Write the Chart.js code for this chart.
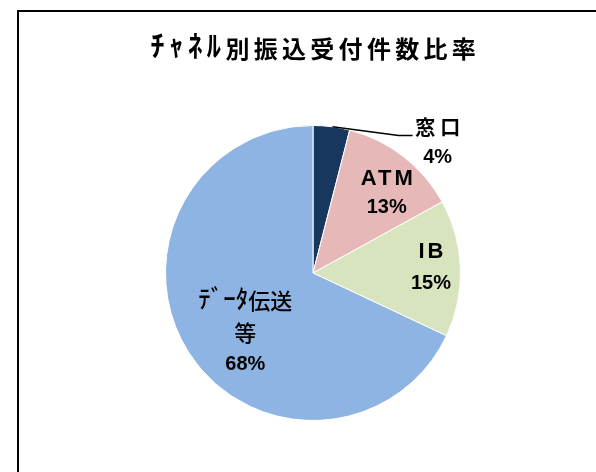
<!DOCTYPE html>
<html>
<head>
<meta charset="utf-8">
<script src="https://cdn.jsdelivr.net/npm/chart.js@4/dist/chart.umd.min.js"></script>
<style>
  html, body { margin: 0; padding: 0; background: #fff; }
  #wrap { position: relative; width: 596px; height: 472px; }
  #frame { position: absolute; left: 17px; top: 10px; right: 0; bottom: 0;
           border-left: 2px solid #000; border-top: 2px solid #000; }
  canvas { position: absolute; left: 0; top: 0; }
</style>
</head>
<body>
<div id="wrap">
  <div id="frame"></div>
  <canvas id="c" width="596" height="472"></canvas>
</div>
<script>
// ---- data ----
const chartTitle = 'ﾁｬﾈﾙ別振込受付件数比率';
const categories = ['窓口', 'ATM', 'IB', ['ﾃﾞｰﾀ伝送', '等']];
const shares = [4, 13, 15, 68];
const sliceColors = ['#17375E', '#E6B9B8', '#D7E4BD', '#8EB4E3'];

// label placement (fractions of radius from the pie centre) – styling only
const JP = '"Noto Sans CJK JP"';
const labelPos = [
  { fx: 0.845, fy: -0.885, lh: 30, w: 'bold', size: 20, kana: 24, ls: 5 },
  { fx: 0.500, fy: -0.540, lh: 29, w: 'bold', size: 22, kana: 24, ls: 3 },
  { fx: 0.800, fy: -0.035, lh: 32, w: 'bold', size: 22, kana: 24, ls: 3 },
  { fx: -0.459, fy: 0.405, lh: 32, w: '500', size: 22, kana: 25, ls: 0 }
];

const isHalfKana = ch => { const c = ch.charCodeAt(0); return c >= 0xFF61 && c <= 0xFF9F; };

// draw text centred at (cx, y); half-width kana drawn with a larger size
function drawMixed(ctx, text, cx, y, weight, size, kanaSize, ls) {
  const runs = [];
  for (const ch of text) {
    const k = isHalfKana(ch);
    if (runs.length && runs[runs.length - 1].k === k) runs[runs.length - 1].t += ch;
    else runs.push({ k, t: ch });
  }
  ctx.letterSpacing = ls + 'px';
  let total = 0;
  runs.forEach(r => {
    ctx.font = `${weight} ${r.k ? kanaSize : size}px "Liberation Sans", ${JP}`;
    if (!r.k && /[^\x00-\x7F]/.test(r.t)) ctx.font = `${weight} ${size}px ${JP}`;
    r.font = ctx.font;
    r.w = ctx.measureText(r.t).width;
    total += r.w;
  });
  total -= ls;
  let x = cx - total / 2;
  ctx.textAlign = 'left';
  ctx.textBaseline = 'middle';
  runs.forEach(r => {
    ctx.font = r.font;
    ctx.fillText(r.t, x, y);
    x += r.w;
  });
}

const titlePlugin = {
  id: 'titleText',
  afterDraw(chart) {
    const ctx = chart.ctx;
    ctx.save();
    ctx.fillStyle = '#000';
    drawMixed(ctx, chartTitle, 313, 49, 'bold', 24, 29, 4.3);
    ctx.restore();
  }
};

const labelPlugin = {
  id: 'sliceLabels',
  afterDatasetsDraw(chart) {
    const ctx = chart.ctx;
    const meta = chart.getDatasetMeta(0);
    meta.data.forEach((arc, i) => {
      const p = labelPos[i];
      const R = arc.outerRadius;
      const cx = arc.x + p.fx * R;
      const cy = arc.y + p.fy * R;
      const cat = chart.data.labels[i];
      const catLines = Array.isArray(cat) ? cat : [cat];
      const n = catLines.length + 1;
      ctx.save();
      ctx.fillStyle = '#000';
      catLines.forEach((t, k) => {
        const y = cy + (k - (n - 1) / 2) * p.lh;
        drawMixed(ctx, t, cx, y, p.w, p.size, p.kana, p.ls);
      });
      const yv = cy + ((n - 1) - (n - 1) / 2) * p.lh;
      drawMixed(ctx, chart.data.datasets[0].data[i] + '%', cx, yv, 'bold', 20, 20, 0);
      ctx.restore();

      if (i === 0) {
        // leader line from slice edge to label
        const mid = (arc.startAngle + arc.endAngle) / 2;
        const sx = arc.x + Math.cos(mid) * R;
        const sy = arc.y + Math.sin(mid) * R;
        const ex = cx - 25;
        const ey = cy - p.lh / 2 + 8;
        ctx.save();
        ctx.strokeStyle = '#000';
        ctx.lineWidth = 1.5;
        ctx.beginPath();
        ctx.moveTo(sx + 1, sy);
        ctx.lineTo(ex - 14, ey);
        ctx.lineTo(ex, ey);
        ctx.stroke();
        ctx.restore();
      }
    });
  }
};

new Chart(document.getElementById('c'), {
  type: 'pie',
  data: {
    labels: categories,
    datasets: [{
      data: shares,
      backgroundColor: sliceColors,
      borderColor: '#ffffff',
      borderWidth: 1
    }]
  },
  options: {
    responsive: false,
    animation: false,
    layout: { padding: { left: 165, right: 135, top: 125, bottom: 51 } },
    plugins: {
      legend: { display: false },
      tooltip: { enabled: false },
      title: { display: false }
    }
  },
  plugins: [titlePlugin, labelPlugin]
});
</script>
</body>
</html>
